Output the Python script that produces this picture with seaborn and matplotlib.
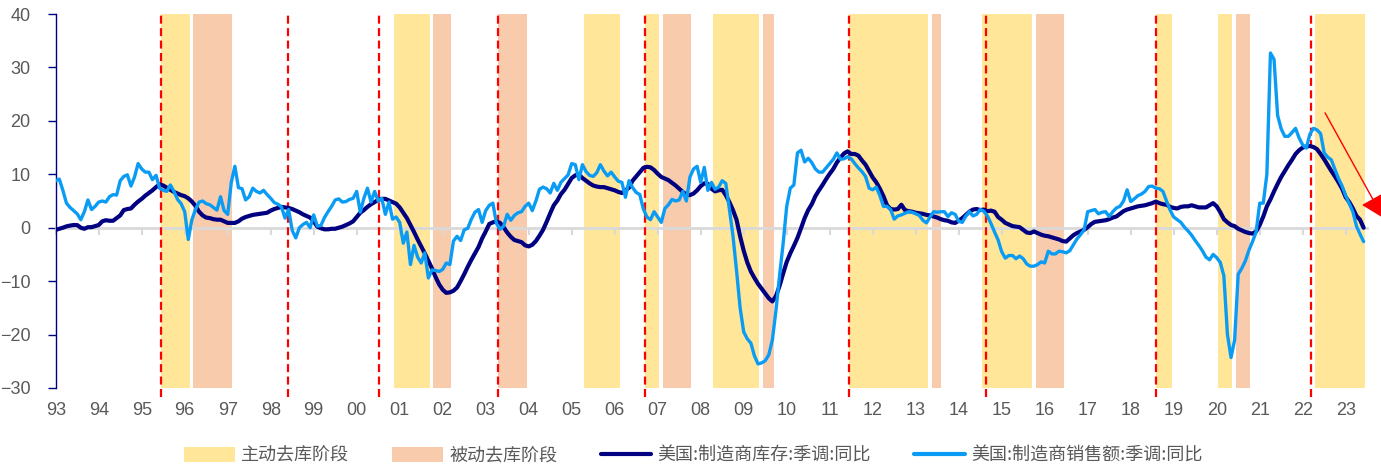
import matplotlib
matplotlib.use("Agg")
import numpy as np
import pandas as pd
import matplotlib.pyplot as plt
import seaborn as sns
from matplotlib.patches import Patch
from matplotlib.lines import Line2D

# US manufacturers' inventories, seasonally adjusted, YoY %, monthly from Jan 1993
inventory_yoy = [
    -0.4, -0.2, 0.0, 0.25, 0.4, 0.5, 0.5, 0.0, -0.2, 0.1, 0.1, 0.3,        # 1993
    0.5, 1.2, 1.4, 1.3, 1.3, 1.8, 2.3, 3.3, 3.5, 3.6, 4.3, 4.9,            # 1994
    5.4, 6.0, 6.5, 7.0, 7.6, 8.1, 7.9, 7.5, 7.1, 6.7, 6.4, 6.1,            # 1995
    5.9, 5.5, 4.9, 4.1, 3.0, 2.3, 1.9, 1.8, 1.6, 1.5, 1.5, 1.2,            # 1996
    0.9, 0.9, 0.9, 1.2, 1.7, 2.0, 2.2, 2.4, 2.5, 2.6, 2.7, 2.8,            # 1997
    3.2, 3.5, 3.7, 3.9, 3.8, 3.7, 3.5, 3.2, 2.9, 2.5, 2.2, 1.9,            # 1998
    1.2, 0.2, -0.1, -0.3, -0.3, -0.2, -0.2, 0.0, 0.2, 0.5, 0.8, 1.2,       # 1999
    2.0, 2.8, 3.3, 3.9, 4.4, 4.8, 5.2, 5.4, 5.4, 5.1, 4.8, 4.5,            # 2000
    3.8, 2.8, 1.8, 0.5, -0.8, -2.2, -3.5, -4.8, -6.2, -7.6, -9.2, -10.6,   # 2001
    -11.6, -12.2, -12.1, -11.8, -11.2, -10.0, -8.7, -7.3, -6.0, -4.8, -3.6, -2.0,  # 2002
    -0.7, 0.7, 1.0, 1.2, 0.9, 0.1, -0.9, -1.7, -2.3, -2.5, -2.7, -3.3,     # 2003
    -3.5, -3.2, -2.5, -1.5, -0.4, 1.1, 2.7, 4.2, 5.1, 6.3, 7.1, 8.2,       # 2004
    9.3, 9.8, 10.0, 9.3, 8.8, 8.3, 7.9, 7.7, 7.6, 7.6, 7.4, 7.2,           # 2005
    7.0, 6.7, 6.5, 7.0, 7.5, 8.8, 9.6, 10.4, 11.2, 11.4, 11.3, 10.8,       # 2006
    10.1, 9.5, 9.2, 8.9, 8.4, 7.9, 7.3, 6.7, 6.2, 6.1, 6.4, 7.0,           # 2007
    7.8, 8.3, 8.2, 7.3, 6.8, 7.0, 7.1, 6.1, 4.8, 3.3, 1.5, -1.6,           # 2008
    -4.3, -6.5, -8.2, -9.4, -10.5, -11.4, -12.3, -13.2, -13.8, -12.8, -10.9, -8.6,  # 2009
    -6.4, -4.8, -3.4, -1.9, -0.1, 1.8, 3.3, 4.4, 5.9, 7.0, 8.0, 9.1,       # 2010
    10.1, 11.0, 12.2, 13.1, 13.9, 14.3, 13.8, 13.8, 13.5, 12.6, 11.8, 10.6,  # 2011
    9.4, 8.5, 7.3, 5.9, 4.2, 3.5, 3.4, 3.5, 4.3, 3.3, 3.1, 3.0,            # 2012
    2.8, 2.7, 2.6, 2.4, 2.3, 2.1, 1.9, 1.6, 1.4, 1.3, 1.0, 0.9,            # 2013
    1.3, 1.8, 2.4, 3.0, 3.4, 3.5, 3.3, 3.4, 3.1, 3.2, 3.0, 2.0,            # 2014
    1.5, 0.9, 0.6, 0.3, 0.2, 0.1, -0.4, -0.9, -1.0, -0.7, -1.0, -1.3,      # 2015
    -1.5, -1.6, -1.8, -2.0, -2.2, -2.5, -2.6, -2.0, -1.4, -1.0, -0.7, -0.4,  # 2016
    0.1, 0.7, 1.1, 1.2, 1.3, 1.4, 1.6, 1.9, 2.1, 2.6, 3.1, 3.4,            # 2017
    3.6, 3.8, 4.0, 4.1, 4.2, 4.4, 4.6, 4.9, 4.6, 4.4, 4.3, 3.9,            # 2018
    3.7, 3.6, 3.9, 4.0, 4.0, 4.2, 4.0, 3.8, 3.8, 3.8, 4.2, 4.6,            # 2019
    4.0, 2.9, 1.6, 1.0, 0.5, 0.3, -0.2, -0.5, -0.8, -1.0, -1.1, -0.7,      # 2020
    0.5, 2.1, 4.0, 5.3, 6.8, 8.2, 9.5, 10.6, 11.7, 12.7, 13.8, 14.5,       # 2021
    15.0, 15.2, 15.3, 15.1, 14.7, 13.8, 12.8, 11.7, 10.6, 9.6, 8.5, 7.3,   # 2022
    5.7, 4.8, 3.6, 2.2, 1.5, 0.0,                                          # 2023
]

# US manufacturers' shipments, seasonally adjusted, YoY %, monthly from Jan 1993
sales_yoy = [
    8.8, 9.1, 7.0, 4.6, 3.8, 3.2, 2.6, 1.5, 3.0, 5.2, 3.4, 4.0,            # 1993
    4.8, 5.0, 4.8, 5.8, 6.2, 6.1, 8.8, 9.6, 9.9, 7.8, 9.5, 12.0,           # 1994
    11.0, 10.4, 10.4, 9.0, 9.8, 7.4, 7.0, 6.8, 8.0, 6.8, 5.3, 4.5,         # 1995
    3.0, -2.2, 1.5, 3.4, 4.8, 5.0, 4.5, 4.3, 3.8, 3.3, 5.8, 3.2,           # 1996
    2.5, 8.5, 11.5, 7.5, 7.3, 5.2, 5.8, 7.4, 6.8, 6.5, 7.0, 6.2,           # 1997
    5.5, 4.7, 4.4, 3.9, 1.8, 3.4, -0.5, -1.9, 0.0, 0.6, 1.0, 0.0,          # 1998
    2.4, 0.3, 0.4, 1.9, 3.0, 4.0, 5.2, 5.4, 4.8, 4.9, 5.3, 5.5,            # 1999
    6.8, 2.9, 5.5, 7.4, 4.8, 6.8, 5.0, 5.5, 2.5, 4.8, 1.6, 2.0,            # 2000
    1.0, -2.9, -0.8, -6.9, -3.3, -5.5, -6.6, -4.7, -9.4, -7.9, -8.0, -8.2,  # 2001
    -7.8, -6.6, -6.9, -2.5, -1.6, -2.4, -0.4, -0.1, 1.6, 2.9, 3.4, 1.0,    # 2002
    3.2, 4.2, 4.6, 0.8, -0.3, 0.3, 2.5, 1.4, 2.3, 2.8, 3.0, 4.0,           # 2003
    4.6, 3.2, 5.0, 7.2, 7.6, 7.3, 6.5, 8.3, 7.0, 8.5, 9.2, 9.9,            # 2004
    12.0, 11.8, 9.0, 11.8, 10.5, 9.8, 9.6, 10.3, 11.8, 10.6, 9.7, 10.4,    # 2005
    9.5, 8.7, 8.5, 5.7, 8.8, 7.5, 6.6, 6.2, 3.5, 2.0, 1.5, 3.0,            # 2006
    2.0, 1.0, 3.6, 4.3, 5.3, 5.0, 5.2, 6.8, 5.0, 9.5, 11.0, 11.5,          # 2007
    8.5, 11.3, 7.0, 8.5, 7.2, 7.6, 8.8, 8.3, 3.5, -1.5, -8.0, -15.0,       # 2008
    -19.5, -20.8, -21.6, -24.0, -25.5, -25.3, -24.9, -23.8, -21.0, -15.5, -9.0, -3.0,  # 2009
    4.0, 7.4, 8.0, 14.0, 14.5, 12.3, 13.0, 12.2, 11.0, 10.4, 10.4, 11.2,   # 2010
    12.0, 12.8, 14.0, 12.8, 12.9, 13.3, 12.9, 12.0, 11.2, 10.5, 9.6, 7.4,  # 2011
    7.1, 7.6, 6.0, 4.0, 4.0, 3.4, 1.6, 2.2, 2.4, 2.7, 3.0, 2.9,            # 2012
    2.6, 2.3, 1.4, 0.9, 2.0, 3.0, 2.9, 3.0, 3.0, 2.1, 2.8, 2.5,            # 2013
    1.2, 1.0, 2.2, 3.0, 2.2, 2.5, 3.4, 3.1, 2.2, 0.8, -0.8, -2.3,          # 2014
    -4.5, -5.7, -5.2, -5.2, -5.8, -5.3, -5.8, -6.8, -7.2, -7.2, -6.9, -6.4,  # 2015
    -6.6, -4.4, -4.9, -4.9, -4.4, -4.5, -4.7, -4.3, -3.2, -2.1, -1.3, -0.4,  # 2016
    3.0, 3.2, 3.4, 2.6, 2.9, 3.0, 2.1, 3.0, 3.7, 4.0, 5.0, 7.1,            # 2017
    4.9, 5.4, 6.0, 6.3, 6.8, 7.7, 7.8, 7.4, 7.3, 6.8, 5.0, 3.3,            # 2018
    2.0, 1.5, 1.0, 0.1, -0.6, -1.4, -2.4, -3.3, -4.3, -5.5, -6.0, -5.0,    # 2019
    -5.6, -6.5, -9.0, -20.0, -24.3, -21.0, -8.7, -7.6, -6.2, -4.2, -2.6, -0.8,  # 2020
    4.6, 4.6, 10.0, 32.7, 31.5, 21.0, 18.5, 17.1, 17.1, 17.8, 18.6, 16.8,  # 2021
    15.5, 14.9, 17.5, 18.6, 18.3, 17.6, 14.0, 13.2, 12.7, 10.9, 9.2, 7.8,  # 2022
    6.0, 4.5, 3.0, 0.3, -1.2, -2.6,                                        # 2023
]

year_labels = ["93", "94", "95", "96", "97", "98", "99", "00", "01", "02",
               "03", "04", "05", "06", "07", "08", "09", "10", "11", "12",
               "13", "14", "15", "16", "17", "18", "19", "20", "21", "22", "23"]

# destocking phases, in decimal years
active_destock = [(1995.45, 1996.12), (2000.87, 2001.70), (2005.29, 2006.12),
                  (2006.70, 2007.03), (2008.29, 2009.36), (2011.46, 2013.28),
                  (2014.535, 2015.70), (2018.60, 2018.95), (2020.04, 2020.36),
                  (2022.29, 2023.45)]
passive_destock = [(1996.20, 1997.11), (2001.78, 2002.19), (2003.28, 2003.95),
                   (2007.12, 2007.77), (2009.45, 2009.70), (2013.37, 2013.60),
                   (2015.79, 2016.44), (2020.45, 2020.78)]
turning_points = [1995.45, 1998.41, 2000.52, 2003.28, 2006.70, 2011.46,
                  2014.64, 2018.60, 2022.19]

legend_labels = ["主动去库阶段", "被动去库阶段",
                 "美国:制造商库存:季调:同比", "美国:制造商销售额:季调:同比"]

NAVY = "#000080"
SKY = "#0A9CF5"
YELLOW = "#FFE699"
PEACH = "#F8CBAD"
GREY_TXT = "#595959"

months = pd.date_range("1993-01-01", periods=len(inventory_yoy), freq="MS")
df = pd.DataFrame({
    "t": months.year + (months.month - 1) / 12.0,
    "inventory": inventory_yoy,
    "sales": sales_yoy,
})

sns.set_theme(style="white")
plt.rcParams["font.family"] = ["Liberation Sans", "Noto Sans CJK SC", "DejaVu Sans"]

W, H = 1381, 468
fig = plt.figure(figsize=(W / 100, H / 100), dpi=100)
x0, x1, ytop, ybot = 55.7, 1367.2, 14, 388
ax = fig.add_axes([x0 / W, 1 - ybot / H, (x1 - x0) / W, (ybot - ytop) / H])

for a, b in active_destock:
    ax.axvspan(a, b, color=YELLOW, lw=0, zorder=0)
for a, b in passive_destock:
    ax.axvspan(a, b, color=PEACH, lw=0, zorder=0)

for x in turning_points:
    ax.axvline(x, ymin=-0.025, ymax=1.005, color="red", lw=1.6,
               ls=(0, (3.6, 2.0)), clip_on=False, zorder=1.8)

sns.lineplot(data=df, x="t", y="inventory", ax=ax, color=NAVY, lw=3.0,
             zorder=3, solid_joinstyle="round", solid_capstyle="round")
sns.lineplot(data=df, x="t", y="sales", ax=ax, color=SKY, lw=2.4,
             zorder=4, solid_joinstyle="round", solid_capstyle="round")

ax.set_xlim(1993, 2023.5)
ax.set_ylim(-30, 40)
ax.set_xlabel("")
ax.set_ylabel("")
ax.grid(False)

for s in ("top", "right"):
    ax.spines[s].set_visible(False)
ax.spines["left"].set_color(NAVY)
ax.spines["left"].set_linewidth(1.0)
ax.spines["bottom"].set_position(("data", 0))
ax.spines["bottom"].set_color("#D9D9D9")
ax.spines["bottom"].set_linewidth(2.0)
ax.spines["bottom"].set_zorder(1.5)

years = list(range(1993, 2024))
ax.set_xticks(years)
ax.tick_params(axis="x", bottom=True, direction="out", length=5, width=1.5,
               color="#D9D9D9", labelbottom=False)
ax.set_yticks(range(-30, 41, 10))
ax.tick_params(axis="y", left=True, direction="out", length=6, width=1.0,
               color=NAVY, pad=12, labelsize=13, labelcolor=GREY_TXT)

sec = ax.secondary_xaxis("bottom")
sec.set_xticks(years, labels=year_labels)
sec.tick_params(bottom=False, length=0, pad=10, labelsize=13, labelcolor=GREY_TXT)
sec.spines["bottom"].set_visible(False)

ax.annotate("", xy=(2023.87, 1.85), xytext=(2022.52, 21.5),
            arrowprops=dict(arrowstyle="-|>,head_length=0.7,head_width=0.4",
                            color="red", lw=1.0, mutation_scale=20,
                            shrinkA=0, shrinkB=0),
            annotation_clip=False, zorder=5)

handles = [Patch(facecolor=YELLOW, edgecolor="none"),
           Patch(facecolor=PEACH, edgecolor="none"),
           Line2D([], [], color=NAVY, lw=3.0, solid_capstyle="round"),
           Line2D([], [], color=SKY, lw=3.0, solid_capstyle="round")]
fig.legend(handles, legend_labels, loc="center", bbox_to_anchor=(0.502, 1 - 456 / H),
           ncol=4, frameon=False,
           prop={"family": ["Noto Sans CJK SC", "DejaVu Sans"], "size": 13},
           handlelength=2.8, handleheight=0.9, handletextpad=0.35,
           columnspacing=2.4, labelcolor=GREY_TXT)

fig.savefig("out.png", dpi=100)
